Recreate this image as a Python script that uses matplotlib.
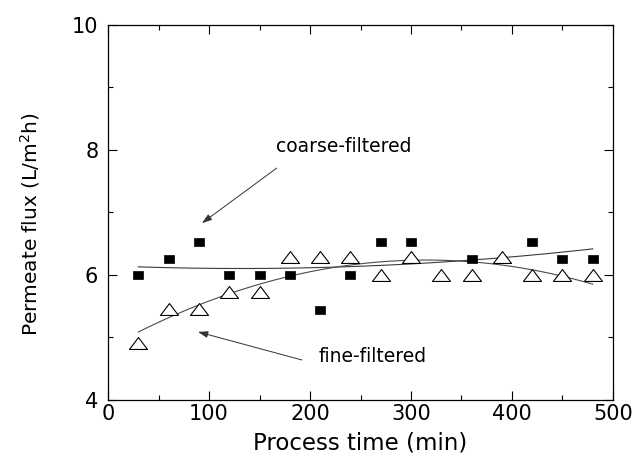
import numpy as np
import matplotlib
matplotlib.use("Agg")
import matplotlib.pyplot as plt
from matplotlib.path import Path

# Sampling times (min)
time_coarse = [30, 60, 90, 120, 150, 180, 210, 240, 270, 300, 360, 420, 450, 480]
flux_coarse = [6.00, 6.26, 6.53, 6.00, 6.00, 6.00, 5.44, 6.00, 6.53, 6.53, 6.26, 6.53, 6.26, 6.26]

time_fine = [30, 60, 90, 120, 150, 180, 210, 240, 270, 300, 330, 360, 390, 420, 450, 480]
flux_fine = [4.91, 5.45, 5.45, 5.73, 5.73, 6.28, 6.28, 6.28, 6.00, 6.28, 6.00, 6.00, 6.28, 6.00, 6.00, 6.00]

xticks = [0, 100, 200, 300, 400, 500]
yticks = [4, 6, 8, 10]

plt.rcParams["font.family"] = ["DejaVu Sans"]

fig = plt.figure(figsize=(6.38, 4.63), dpi=100)
ax = fig.add_axes([0.1693, 0.1361, 0.7915, 0.8099])

# wide, flat marker shapes
tri = Path([(-1, -0.66), (1, -0.66), (0, 0.66), (-1, -0.66)],
           [Path.MOVETO, Path.LINETO, Path.LINETO, Path.CLOSEPOLY])
box = Path([(-1, -0.68), (1, -0.68), (1, 0.68), (-1, 0.68), (-1, -0.68)],
           [Path.MOVETO, Path.LINETO, Path.LINETO, Path.LINETO, Path.CLOSEPOLY])

# second-order trend lines fitted to each series
tc = np.asarray(time_coarse, float)
tf = np.asarray(time_fine, float)
pc = np.polyfit(tc, flux_coarse, 2)
pf = np.polyfit(tf, flux_fine, 2)
xs_c = np.linspace(tc.min(), tc.max(), 200)
xs_f = np.linspace(tf.min(), tf.max(), 200)
ax.plot(xs_c, np.polyval(pc, xs_c), color="#3a3a3a", lw=0.8, zorder=2)
ax.plot(xs_f, np.polyval(pf, xs_f), color="#4a4a4a", lw=0.8, zorder=2)

ax.plot(time_coarse, flux_coarse, linestyle="none", marker=box, markersize=7.6,
        markerfacecolor="black", markeredgecolor="black", markeredgewidth=0.5, zorder=3)
ax.plot(time_fine, flux_fine, linestyle="none", marker=tri, markersize=13,
        markerfacecolor="white", markeredgecolor="black", markeredgewidth=0.8, zorder=3)

ax.set_xlim(0, 500)
ax.set_ylim(4, 10)
ax.set_xticks(xticks)
ax.set_yticks(yticks)
ax.set_xticks(np.arange(50, 500, 100), minor=True)
ax.set_yticks([5, 7, 9], minor=True)
ax.tick_params(which="both", direction="in", top=True, right=True, width=0.8,
               labelsize=15)
ax.tick_params(which="major", length=6.5)
ax.tick_params(which="minor", length=3.5)
ax.tick_params(axis="y", pad=7)
ax.tick_params(axis="x", pad=3)
for s in ax.spines.values():
    s.set_linewidth(0.9)

ax.set_xlabel("Process time (min)", fontsize=16.5, labelpad=5)
ax.set_ylabel("Permeate flux (L/m$^2$h)", fontsize=14.5)
ax.yaxis.set_label_coords(-0.131, 0.47)

arrow_style = dict(arrowstyle="-|>,head_length=0.6,head_width=0.2",
                   color="#333333", lw=0.7, shrinkA=0, shrinkB=0)

ax.text(233, 8.05, "coarse-filtered", fontsize=13.5, ha="center", va="center")
ax.annotate("", xy=(93, 6.83), xytext=(167, 7.71), arrowprops=arrow_style)

ax.text(262, 4.69, "fine-filtered", fontsize=13.5, ha="center", va="center")
ax.annotate("", xy=(89, 5.09), xytext=(192, 4.64), arrowprops=arrow_style)

fig.savefig("out.png", dpi=100)
